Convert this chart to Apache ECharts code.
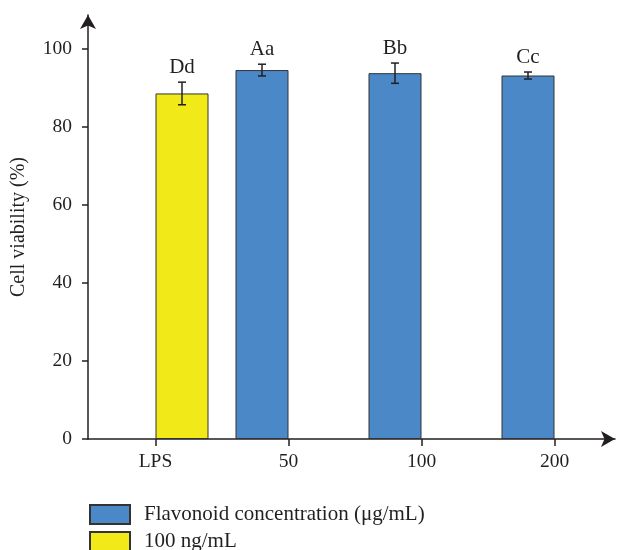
<!DOCTYPE html>
<html>
<head>
<meta charset="utf-8">
<script src="https://cdn.jsdelivr.net/npm/echarts@6/dist/echarts.min.js"></script>
<style>
  html, body { margin: 0; padding: 0; background: #fff; }
  #chart { width: 621px; height: 550px; }
</style>
</head>
<body>
<div id="chart"></div>
<script>
// data
var categories = ['LPS', '50', '100', '200'];
var viability = [88.6, 94.6, 93.8, 93.2];
var errors = [2.9, 1.5, 2.6, 0.9];
var letters = ['Dd', 'Aa', 'Bb', 'Cc'];
var isLps = [true, false, false, false];
var flavonoidName = 'Flavonoid concentration (μg/mL)';
var lpsName = '100 ng/mL';

var dom = document.getElementById('chart');
var myChart = echarts.init(dom, null, { renderer: 'canvas' });

var font = '"Liberation Serif", "DejaVu Serif", serif';
var ink = '#231f20';
var barW = 53;
var fs = 19.5;

var blueData = viability.map(function (v, i) { return isLps[i] ? '-' : v; });
var yellowData = viability.map(function (v, i) { return isLps[i] ? v : '-'; });
var errData = viability.map(function (v, i) { return [i, v, errors[i], isLps[i] ? 1 : -1]; });

// one legend box per row, stacked
function legendRow(name, top) {
  return {
    left: 89,
    top: top,
    padding: 0,
    itemWidth: 40,
    itemHeight: 19,
    icon: 'rect',
    data: [name],
    textStyle: { fontFamily: font, fontSize: 21, color: ink, padding: [0, 0, 0, 9] }
  };
}

var option = {
  animation: false,
  backgroundColor: '#fff',
  textStyle: { fontFamily: font, color: ink },
  legend: [legendRow(flavonoidName, 504), legendRow(lpsName, 531)],
  grid: [
    // axis lines with arrows
    { left: 88, right: 6, top: 15, bottom: 111 },
    // bars, ticks, labels
    { left: 89, width: 533, top: 49, bottom: 111 }
  ],
  xAxis: [
    {
      type: 'value', gridIndex: 0, min: 0, max: 1,
      axisLine: { show: true, symbol: ['none', 'arrow'], symbolSize: [12, 14], lineStyle: { color: ink, width: 1.5 } },
      axisTick: { show: false }, axisLabel: { show: false }, splitLine: { show: false }
    },
    {
      type: 'category', gridIndex: 1, data: categories, boundaryGap: true,
      axisLine: { show: false },
      axisTick: { show: true, alignWithLabel: true, length: 7, lineStyle: { color: ink, width: 1.5 } },
      axisLabel: { margin: 13, fontSize: fs, fontFamily: font, color: ink },
      splitLine: { show: false }
    }
  ],
  yAxis: [
    {
      type: 'value', gridIndex: 0, min: 0, max: 108.7,
      name: 'Cell viability (%)', nameLocation: 'middle', nameGap: 59,
      nameTextStyle: { fontSize: 20, fontFamily: font, color: ink },
      axisLine: { show: true, symbol: ['none', 'arrow'], symbolSize: [12, 14], lineStyle: { color: ink, width: 1.5 } },
      axisTick: { show: false }, axisLabel: { show: false }, splitLine: { show: false }
    },
    {
      type: 'value', gridIndex: 1, min: 0, max: 100, interval: 20, offset: 1,
      axisLine: { show: false },
      axisTick: { show: true, length: 6, lineStyle: { color: ink, width: 1.5 } },
      axisLabel: { margin: 16, fontSize: fs, fontFamily: font, color: ink },
      splitLine: { show: false }
    }
  ],
  series: [
    {
      name: flavonoidName, type: 'bar', xAxisIndex: 1, yAxisIndex: 1,
      data: blueData, barWidth: barW, barGap: '0%',
      itemStyle: { color: '#4a88c7', borderColor: '#333', borderWidth: 1 }
    },
    {
      name: lpsName, type: 'bar', xAxisIndex: 1, yAxisIndex: 1,
      data: yellowData, barWidth: barW, barGap: '0%',
      itemStyle: { color: '#f2ea18', borderColor: '#333', borderWidth: 1 }
    },
    {
      type: 'custom', xAxisIndex: 1, yAxisIndex: 1, z: 5,
      data: errData,
      renderItem: function (params, api) {
        var i = api.value(0), v = api.value(1), e = api.value(2), side = api.value(3);
        var top = api.coord([i, v + e]);
        var bot = api.coord([i, v - e]);
        var x = top[0] + side * barW / 2;
        var cap = 4;
        var ls = { stroke: ink, lineWidth: 1.5 };
        return {
          type: 'group',
          children: [
            { type: 'line', shape: { x1: x, y1: top[1], x2: x, y2: bot[1] }, style: ls },
            { type: 'line', shape: { x1: x - cap, y1: top[1], x2: x + cap, y2: top[1] }, style: ls },
            { type: 'line', shape: { x1: x - cap, y1: bot[1], x2: x + cap, y2: bot[1] }, style: ls },
            {
              type: 'text', x: x, y: top[1] - 4,
              style: { text: letters[params.dataIndex], fill: ink, font: '21px ' + font, align: 'center', verticalAlign: 'bottom' }
            }
          ]
        };
      }
    }
  ]
};

myChart.setOption(option);
window.addEventListener('resize', myChart.resize);
</script>
</body>
</html>
